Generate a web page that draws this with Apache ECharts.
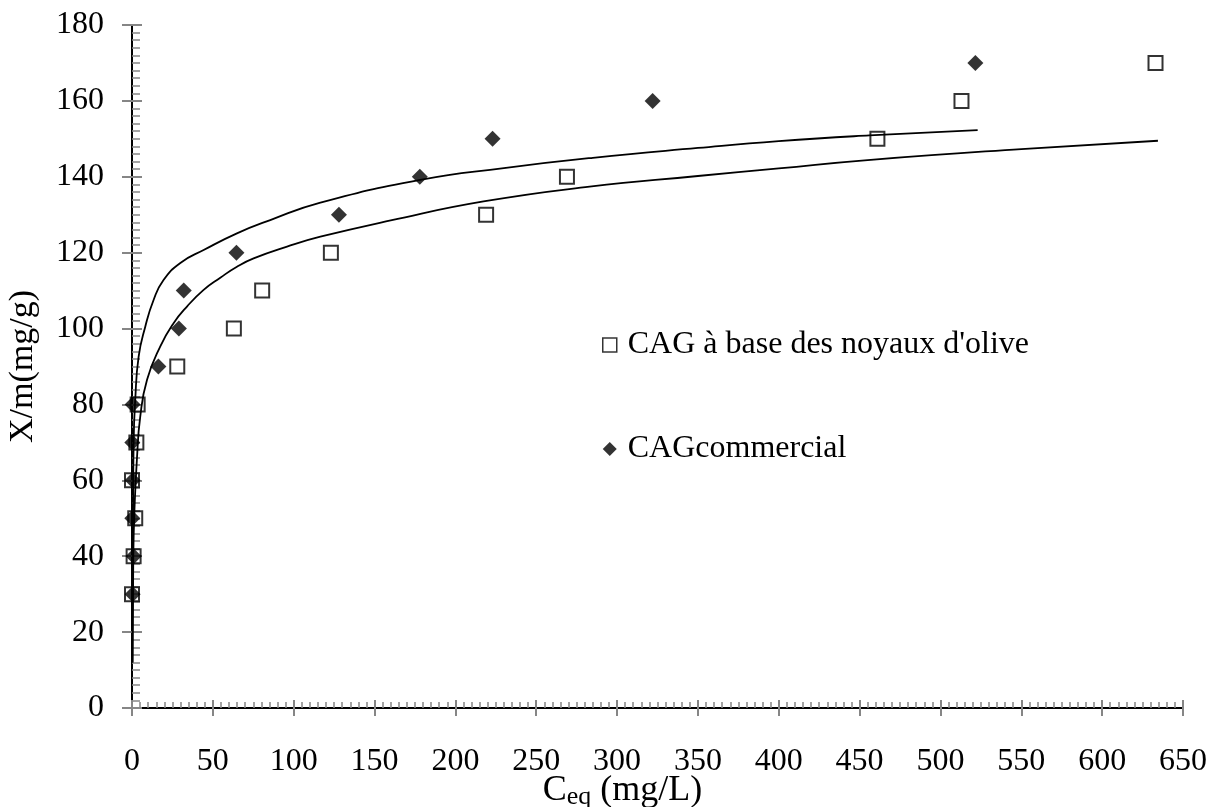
<!DOCTYPE html>
<html>
<head>
<meta charset="utf-8">
<script src="https://cdn.jsdelivr.net/npm/echarts@6/dist/echarts.min.js"></script>
<style>
  html, body { margin: 0; padding: 0; background: #fff; }
  #chart { width: 1216px; height: 807px; }
</style>
</head>
<body>
<div id="chart"></div>
<script>
// Isotherm data: equilibrium concentration (mg/L) vs adsorbed amount (mg/g)
const oliveCeq = [0, 1, 2, 0, 2.7, 3.5, 28, 63, 80.5, 123, 219, 269, 461, 513, 633];
const oliveQ   = [30, 40, 50, 60, 70, 80, 90, 100, 110, 120, 130, 140, 150, 160, 170];
const commCeq  = [0.4, 1, 0.2, 0.4, 0.2, 0.4, 16.3, 29, 32, 64.6, 128, 178, 223, 322, 521.6];
const commQ    = [30, 40, 50, 60, 70, 80, 90, 100, 110, 120, 130, 140, 150, 160, 170];

// Fitted curves
const fitOliveX = [0.3, 0.8, 1.5, 3.1, 5.1, 9.3, 17.5, 25.7, 34, 44.3, 54.6, 64.9, 75.2, 95.9, 116.5, 160, 217.4, 283, 350, 400, 455, 550, 634.5];
const fitOliveY = [12, 40, 52, 66, 76.8, 86.5, 95.3, 101.4, 105.8, 110.2, 113.4, 116.3, 118.5, 121.6, 124.2, 128.5, 133.5, 137.4, 140.2, 142.2, 144.4, 147.3, 149.5];
const fitCommX  = [0.3, 0.6, 1.0, 2.0, 4.1, 8.2, 13.4, 19.5, 29.9, 44.3, 64.9, 85.5, 116.5, 178.3, 230, 285, 350, 400, 456, 523];
const fitCommY  = [12, 45, 70, 81.2, 92.6, 100.5, 107.6, 112.8, 117.3, 120.7, 125.1, 128.6, 133.2, 139.2, 142.3, 145.0, 147.6, 149.4, 150.9, 152.3];

const xTicks = { min: 0, max: 650, interval: 50 };
const yTicks = { min: 0, max: 180, interval: 20 };

const serif = 'Liberation Serif, Times New Roman, serif';
const gray = '#868686';

const zip = (xs, ys) => xs.map((x, i) => [x, ys[i]]);

const chart = echarts.init(document.getElementById('chart'), null, { renderer: 'canvas' });

const baseX = { type: 'value', min: xTicks.min, max: xTicks.max, interval: xTicks.interval, splitLine: { show: false } };
const baseY = { type: 'value', min: yTicks.min, max: yTicks.max, interval: yTicks.interval, splitLine: { show: false } };

chart.setOption({
  animation: false,
  backgroundColor: '#fff',
  grid: { left: 132, right: 33, top: 25, bottom: 99, containLabel: false, outerBoundsMode: 'none' },
  legend: {
    orient: 'vertical',
    left: 597,
    top: 324,
    itemGap: 72,
    itemWidth: 14,
    itemHeight: 14,
    textStyle: { fontFamily: serif, fontSize: 32, color: '#000', padding: [0, 0, 0, 6] },
    data: [
      { name: "CAG à base des noyaux d'olive", icon: 'rect',
        itemStyle: { color: 'rgba(0,0,0,0)', borderColor: '#000', borderWidth: 1.5 } },
      { name: 'CAGcommercial', icon: 'diamond', itemStyle: { color: '#000' } }
    ]
  },
  xAxis: [
    Object.assign({}, baseX, {
      position: 'bottom',
      axisLine: { show: true, lineStyle: { color: gray, width: 2 } },
      axisTick: { show: true, inside: false, length: 8, lineStyle: { color: gray, width: 2 } },
      axisLabel: { fontFamily: serif, fontSize: 32, color: '#000', margin: 38 },
      name: 'C{sub|eq} (mg/L)',
      nameLocation: 'middle',
      nameMoveOverlap: false,
      nameGap: 64,
      nameTextStyle: {
        fontFamily: serif, fontSize: 36, color: '#000',
        padding: [0, 70, 0, 0],
        rich: { sub: { fontFamily: serif, fontSize: 26, color: '#000', padding: [12, 0, 0, 0] } }
      }
    }),
    Object.assign({}, baseX, {
      position: 'bottom',
      axisLine: { show: false },
      axisTick: { show: true, inside: true, length: 8, lineStyle: { color: gray, width: 2 } },
      minorTick: { show: true, splitNumber: 10, length: 6, lineStyle: { color: gray, width: 1.5 } },
      axisLabel: { show: false }
    }),
    Object.assign({}, baseX, {
      position: 'top',
      axisLine: { show: true, lineStyle: { color: '#000', width: 2 } },
      axisTick: { show: false },
      axisLabel: { show: false }
    })
  ],
  yAxis: [
    Object.assign({}, baseY, {
      position: 'left',
      axisLine: { show: true, lineStyle: { color: gray, width: 2 } },
      axisTick: { show: true, inside: false, length: 10, lineStyle: { color: gray, width: 2 } },
      axisLabel: { fontFamily: serif, fontSize: 32, color: '#000', margin: 28 },
      name: 'X/m(mg/g)',
      nameLocation: 'middle',
      nameMoveOverlap: false,
      nameGap: 92,
      nameTextStyle: { fontFamily: serif, fontSize: 34, color: '#000' }
    }),
    Object.assign({}, baseY, {
      position: 'left',
      axisLine: { show: false },
      axisTick: { show: true, inside: true, length: 10, lineStyle: { color: gray, width: 2 } },
      minorTick: { show: true, splitNumber: 10, length: 8, lineStyle: { color: gray, width: 1.5 } },
      axisLabel: { show: false }
    }),
    Object.assign({}, baseY, {
      position: 'right',
      axisLine: { show: true, lineStyle: { color: '#000', width: 2 } },
      axisTick: { show: false },
      axisLabel: { show: false }
    })
  ],
  series: [
    {
      name: 'fit olive', type: 'line', data: zip(fitOliveX, fitOliveY),
      showSymbol: false, smooth: 0.5, silent: true,
      lineStyle: { color: '#000', width: 1.8 }, z: 3
    },
    {
      name: 'fit commercial', type: 'line', data: zip(fitCommX, fitCommY),
      showSymbol: false, smooth: 0.5, silent: true,
      lineStyle: { color: '#000', width: 1.8 }, z: 3
    },
    {
      name: "CAG à base des noyaux d'olive", type: 'scatter', data: zip(oliveCeq, oliveQ),
      symbol: 'rect', symbolSize: 14,
      itemStyle: { color: 'rgba(0,0,0,0)', borderColor: '#000', borderWidth: 2 }, z: 2
    },
    {
      name: 'CAGcommercial', type: 'scatter', data: zip(commCeq, commQ),
      symbol: 'diamond', symbolSize: 16,
      itemStyle: { color: '#000' }, z: 4
    }
  ]
});
</script>
</body>
</html>
